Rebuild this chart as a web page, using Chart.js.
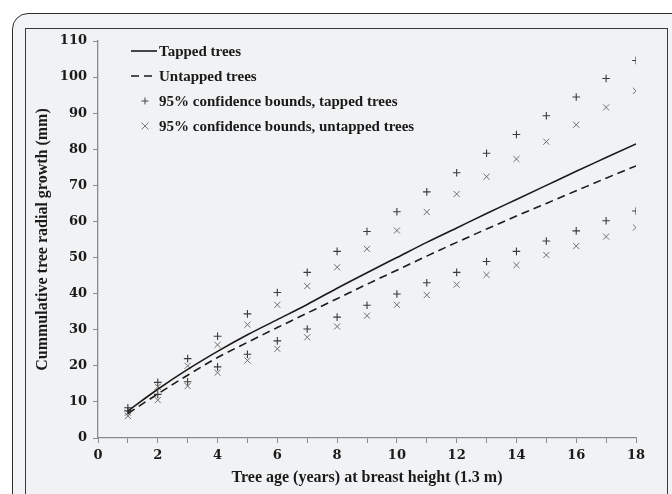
<!DOCTYPE html>
<html>
<head>
<meta charset="utf-8">
<script src="https://cdn.jsdelivr.net/npm/chart.js@4.4.1/dist/chart.umd.min.js"></script>
<style>
  html, body { margin: 0; padding: 0; background: #ffffff; width: 672px; height: 494px; overflow: hidden; }
  #outer { position: absolute; left: 12px; top: 13px; width: 680px; height: 500px; border: 1.5px solid #2e2e2e; border-radius: 16px; box-sizing: border-box; background: #f2f3f5; }
  #inner { position: absolute; left: 25px; top: 28px; width: 643px; height: 480px; border: 1.5px solid #3a3a3a; box-sizing: border-box; background: #f1f2f4; }
  #wrap { position: absolute; left: 0; top: 0; width: 672px; height: 494px; }
</style>
</head>
<body>
<div id="outer"></div>
<div id="inner"></div>
<div id="wrap"><canvas id="c" width="672" height="494"></canvas></div>
<script>
// ---- Data ----
const ages = [1,2,3,4,5,6,7,8,9,10,11,12,13,14,15,16,17,18];
const tapped   = [7.5,13.5,19.0,24.0,28.6,32.8,37.0,41.5,45.8,50.0,54.2,58.2,62.2,66.1,70.0,73.9,77.7,81.5];
const untapped = [6.8,12.2,17.4,22.3,26.5,30.6,34.6,38.6,42.6,46.5,50.4,54.2,57.9,61.5,65.0,68.5,72.0,75.4];
const tappedUpper   = [8.4,15.4,22.0,28.2,34.4,40.3,45.9,51.7,57.2,62.7,68.2,73.5,78.9,84.1,89.3,94.5,99.6,104.6];
const tappedLower   = [7.5,12.1,15.6,19.7,23.2,26.9,30.2,33.5,36.8,39.9,43.0,45.9,48.9,51.7,54.6,57.4,60.2,62.9];
const untappedUpper = [7.0,14.2,20.0,25.8,31.4,36.9,42.1,47.3,52.4,57.5,62.6,67.6,72.4,77.3,82.1,86.8,91.6,96.2];
const untappedLower = [6.1,10.5,14.4,18.1,21.5,24.7,27.9,30.9,33.9,36.9,39.6,42.5,45.2,47.9,50.7,53.2,55.8,58.3];
const xTicks = [0,2,4,6,8,10,12,14,16,18];
const yTicks = [0,10,20,30,40,50,60,70,80,90,100,110];
const labels = ["Tapped trees","Untapped trees","95% confidence bounds, tapped trees","95% confidence bounds, untapped trees"];
const xTitle = "Tree age (years) at breast height (1.3 m)";
const yTitle = "Cummulative tree radial growth (mm)";

const pts = (arr) => ages.map((a, i) => ({x: a, y: arr[i]}));
const serif = "'Liberation Serif', 'DejaVu Serif', serif";
const tickFont = "'DejaVu Serif', serif";

const legendPlugin = {
  id: 'customLegend',
  afterDraw(chart) {
    const ctx = chart.ctx;
    ctx.save();
    ctx.font = "bold 15px " + serif;
    ctx.textBaseline = 'middle';
    const x0 = 131, x1 = 157, tx = 159, y0 = 51, dy = 25;
    labels.forEach((lab, i) => {
      const y = y0 + i * dy;
      ctx.strokeStyle = '#1a1a1a';
      if (i === 0 || i === 1) {
        ctx.lineWidth = 1.6;
        ctx.setLineDash(i === 1 ? [8, 5] : []);
        ctx.beginPath(); ctx.moveTo(x0, y); ctx.lineTo(x1, y); ctx.stroke();
        ctx.setLineDash([]);
      } else {
        ctx.lineWidth = 1;
        ctx.strokeStyle = i === 2 ? '#444' : '#777';
        const cx = 145, r = 3.5;
        ctx.beginPath();
        if (i === 2) { ctx.moveTo(cx - r, y); ctx.lineTo(cx + r, y); ctx.moveTo(cx, y - r); ctx.lineTo(cx, y + r); }
        else { ctx.moveTo(cx - r, y - r); ctx.lineTo(cx + r, y + r); ctx.moveTo(cx - r, y + r); ctx.lineTo(cx + r, y - r); }
        ctx.stroke();
      }
      ctx.fillStyle = '#1a1a1a';
      ctx.fillText(lab, tx, y + 1);
    });
    ctx.restore();
  }
};

new Chart(document.getElementById('c'), {
  type: 'scatter',
  data: {
    datasets: [
      { label: labels[0], data: pts(tapped), showLine: true, borderColor: '#1a1a1a', borderWidth: 1.6, pointRadius: 0, cubicInterpolationMode: 'monotone', fill: false, order: 1 },
      { label: labels[1], data: pts(untapped), showLine: true, borderColor: '#1a1a1a', borderWidth: 1.6, borderDash: [8, 5], pointRadius: 0, cubicInterpolationMode: 'monotone', fill: false, order: 1 },
      { label: labels[2], data: pts(tappedUpper), pointStyle: 'cross', pointRadius: 3.8, borderColor: '#3a3a3a', borderWidth: 1.1, backgroundColor: '#3a3a3a', order: 2 },
      { label: labels[2], data: pts(tappedLower), pointStyle: 'cross', pointRadius: 3.8, borderColor: '#3a3a3a', borderWidth: 1.1, backgroundColor: '#3a3a3a', order: 2 },
      { label: labels[3], data: pts(untappedUpper), pointStyle: 'crossRot', pointRadius: 4.3, borderColor: '#6e6e6e', borderWidth: 1, backgroundColor: '#6e6e6e', order: 2 },
      { label: labels[3], data: pts(untappedLower), pointStyle: 'crossRot', pointRadius: 4.3, borderColor: '#6e6e6e', borderWidth: 1, backgroundColor: '#6e6e6e', order: 2 }
    ]
  },
  options: {
    responsive: false,
    animation: false,
    devicePixelRatio: 1,
    layout: { padding: { top: 41, right: 36, left: 0, bottom: 0 } },
    plugins: { legend: { display: false }, tooltip: { enabled: false } },
    scales: {
      x: {
        type: 'linear', min: 0, max: 18,
        afterBuildTicks: (s) => { s.ticks = [0].concat(ages).map(v => ({value: v})); },
        afterFit: (s) => { s.height = 56; },
        ticks: {
          callback: (v) => xTicks.includes(v) ? String(v) : '',
          color: '#1a1a1a', font: { family: tickFont, size: 13, weight: 'bold' }, padding: 5, maxRotation: 0, autoSkip: false
        },
        grid: { drawOnChartArea: false, drawTicks: true, tickLength: 5, color: '#8a8a8a' },
        border: { display: true, color: '#8a8a8a', width: 1.3 },
        title: { display: true, text: xTitle, color: '#1a1a1a', font: { family: serif, size: 16, weight: 'bold' }, padding: { top: 0, bottom: 7 } }
      },
      y: {
        type: 'linear', min: 0, max: 110,
        afterBuildTicks: (s) => { s.ticks = yTicks.map(v => ({value: v})); },
        afterFit: (s) => { s.width = 98; },
        ticks: { color: '#1a1a1a', font: { family: tickFont, size: 13, weight: 'bold' }, padding: 6 },
        grid: { drawOnChartArea: false, drawTicks: true, tickLength: 5, color: '#8a8a8a' },
        border: { display: true, color: '#8a8a8a', width: 1.3 },
        title: { display: true, text: yTitle, color: '#1a1a1a', font: { family: serif, size: 16, weight: 'bold' }, padding: { top: 33, bottom: 0 } }
      }
    }
  },
  plugins: [legendPlugin]
});
</script>
</body>
</html>
